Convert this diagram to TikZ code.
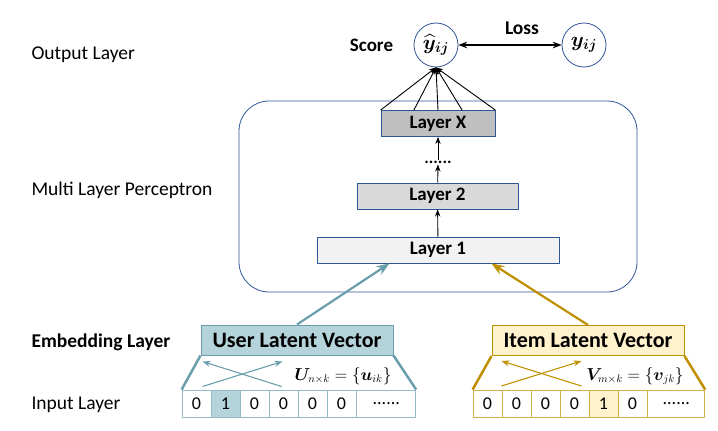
\documentclass[tikz,border=0pt]{standalone}
\usepackage{amsmath,bm}
\usepackage{fontspec}
\setmainfont{Carlito}
\usetikzlibrary{positioning,arrows.meta,calc}
\definecolor{mlpblue}{HTML}{2F5597}
\definecolor{userline}{HTML}{6A9EAD}
\definecolor{userfill}{HTML}{B5D3DB}
\definecolor{itemline}{HTML}{BF9000}
\definecolor{itemfill}{HTML}{FFF2CC}
\newcommand{\fsz}[1]{\fontsize{#1}{#1}\selectfont}
\begin{document}
\begin{tikzpicture}[x=1pt,y=-1pt,>=Stealth,line join=round,font=\fsz{19.5},
	layerbox/.style={draw=mlpblue,line width=0.8pt,minimum height=26pt,inner sep=0pt,font=\fsz{19}\bfseries},
	outcircle/.style={circle,draw=mlpblue,line width=0.8pt,minimum size=44pt,inner sep=0pt,font=\fsz{22}},
	latent/.style={line width=1pt,minimum width=192pt,minimum height=30pt,inner sep=0pt,font=\fsz{22}\bfseries},
	cell/.style={draw,line width=0.8pt,minimum width=29pt,minimum height=27pt,inner sep=0pt,font=\fsz{18}}]
	\useasboundingbox (0,0) rectangle (718,431);
	% layer names
	\node[anchor=west] (outlbl) at (28,55) {Output Layer};
	\node[anchor=west] (mlplbl) at (28,190) {Multi Layer Perceptron};
	\node[anchor=west,font=\fsz{19.5}\bfseries] (emblbl) at (28,342) {Embedding Layer};
	\node[anchor=west] (inlbl) at (28,405) {Input Layer};
	% perceptron
	\node[draw=mlpblue,line width=0.8pt,rounded corners=30pt,minimum width=398pt,minimum height=191pt] (mlp) at (438,196.5) {};
	\node[layerbox,fill=black!25,minimum width=114pt] (lx) at (438,123.5) {Layer X};
	\node[inner sep=1pt,font=\fsz{17}\bfseries] (dots) at (438,162) {......};
	\node[layerbox,fill=black!15,minimum width=161pt] (l2) at (437.5,196) {Layer 2};
	\node[layerbox,fill=black!5,minimum width=242pt] (l1) at (438,250) {Layer 1};
	\draw[->,line width=0.9pt] (l1) -- (l2);
	\draw[->,line width=0.9pt] (l2) -- (dots);
	\draw[->,line width=0.9pt] (dots) -- (lx);
	% output
	\node[outcircle] (yhat) at (436,45) {$\widehat{\bm y}_{\bm{ij}}$};
	\node[outcircle] (ytrue) at (584,45) {$\bm y_{\bm{ij}}$};
	\node[left=17pt of yhat,font=\fsz{19}\bfseries] (score) {Score};
	\node[font=\fsz{19.5}\bfseries] (loss) at (522,28) {Loss};
	\draw[<->,line width=1.3pt] (yhat) -- (ytrue);
	\foreach \f in {0,0.29,0.5,0.71,1}
		\draw[->,line width=0.9pt] ($(lx.north west)!\f!(lx.north east)$) -- (yhat.south);
	% embedding
	\node[latent,draw=userline,fill=userfill] (user) at (297,340) {User Latent Vector};
	\node[latent,draw=itemline,fill=itemfill] (item) at (588,340.5) {Item Latent Vector};
	\draw[->,userline,line width=2.2pt] (user.north) -- ($(l1.south west)!0.30!(l1.south east)$);
	\draw[->,itemline,line width=2.2pt] (item.north) -- ($(l1.south west)!0.72!(l1.south east)$);
	% input
	\foreach \v/\c [count=\i] in {0/white,1/userfill,0/white,0/white,0/white,0/white}
		\node[cell,draw=userline!70,fill=\c] (u\i) at ({167.5+29*\i},403.5) {\v};
	\node[cell,draw=userline!70,minimum width=59pt,right=0pt of u6] (u7) {......};
	\foreach \v/\c [count=\i] in {0/white,0/white,0/white,0/white,1/itemfill,0/white}
		\node[cell,draw=itemline!70,fill=\c] (v\i) at ({458.5+29*\i},403.5) {\v};
	\node[cell,draw=itemline!70,minimum width=57pt,right=0pt of v6] (v7) {......};
	\draw[userline,line width=2.5pt] (user.south west) -- (u1.north west) (user.south east) -- (u7.north east);
	\draw[itemline,line width=2.5pt] (item.south west) -- (v1.north west) (item.south east) -- (v7.north east);
	\draw[->,userline,line width=1.1pt] ([shift={(2,31)}]user.south west) -- ([shift={(82,6)}]user.south west);
	\draw[->,userline,line width=1.1pt] ([shift={(81,31)}]user.south west) -- ([shift={(2,6)}]user.south west);
	\draw[->,itemline,line width=1.1pt] ([shift={(10,30)}]item.south west) -- ([shift={(90,5)}]item.south west);
	\draw[->,itemline,line width=1.1pt] ([shift={(90,30)}]item.south west) -- ([shift={(10,5)}]item.south west);
	\node[font=\fsz{16}] (uform) at (343,376) {$\bm U_{n\times k}=\{\bm u_{ik}\}$};
	\node[font=\fsz{16}] (vform) at (635,376) {$\bm V_{m\times k}=\{\bm v_{jk}\}$};
\end{tikzpicture}
\end{document}
